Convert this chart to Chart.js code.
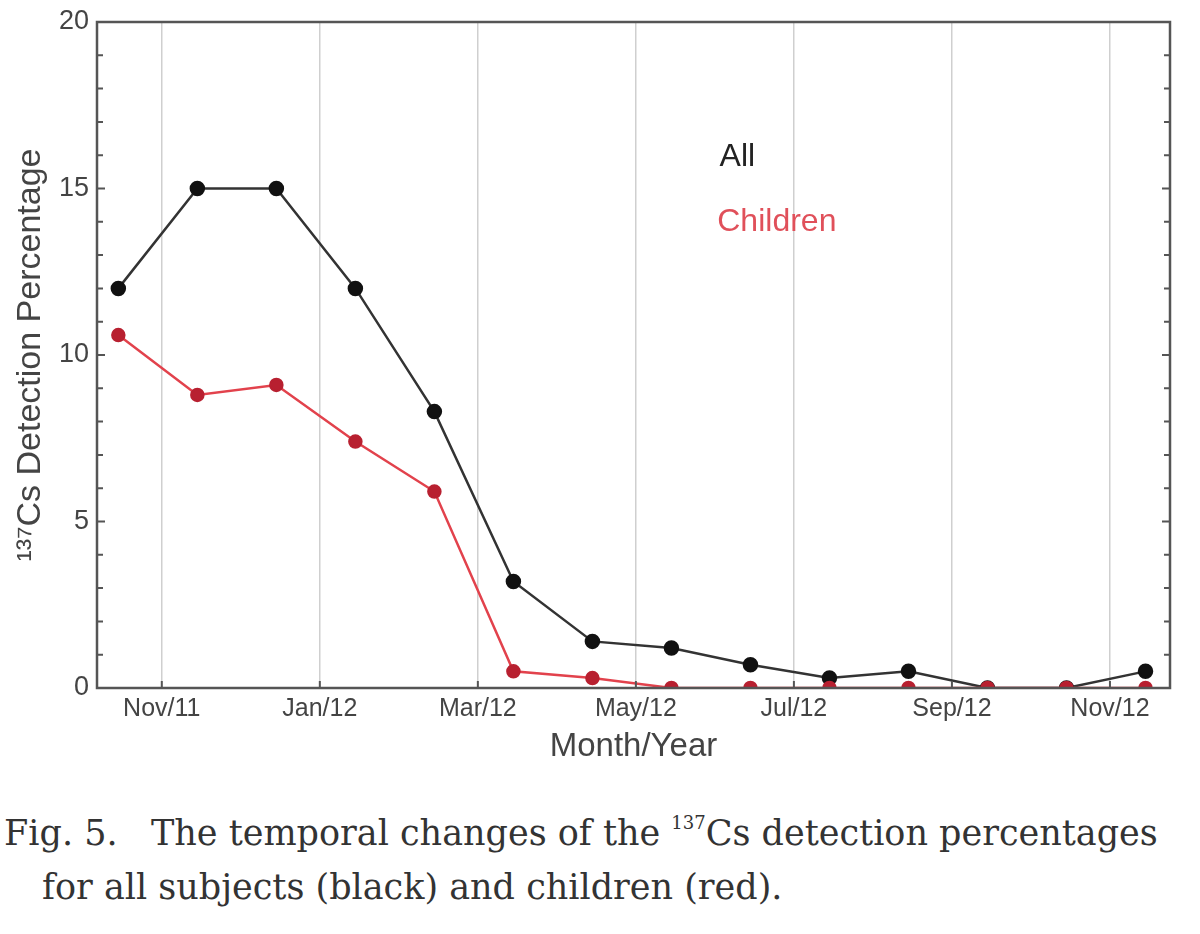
<!DOCTYPE html>
<html>
<head>
<meta charset="utf-8">
<script src="https://cdn.jsdelivr.net/npm/chart.js@4"></script>
<style>
  body { margin: 0; background: #fff; }
  #wrap { position: relative; width: 1200px; height: 934px; }
  #caption {
    position: absolute; left: 4px; top: 806px; width: 1196px;
    font-family: "DejaVu Serif", "Liberation Serif", serif;
    font-size: 35px; line-height: 54px; color: #333; white-space: nowrap;
  }
  #caption .l2 { padding-left: 38px; }
  sup { font-size: 18px; vertical-align: 16px; line-height: 0; }
</style>
</head>
<body>
<div id="wrap">
  <canvas id="lineChart" width="1200" height="780"></canvas>
  <div id="caption">
    <div>Fig. 5.&nbsp;&nbsp; The temporal changes of the <sup>137</sup>Cs detection percentages</div>
    <div class="l2">for all subjects (black) and children (red).</div>
  </div>
</div>
<script>
// months are numbered so that Nov/11 = 11, Jan/12 = 13 ...
months = ['Oct/11', 'Nov/11', 'Dec/11', 'Jan/12', 'Feb/12', 'Mar/12', 'Apr/12',
          'May/12', 'Jun/12', 'Jul/12', 'Aug/12', 'Sep/12', 'Oct/12', 'Nov/12'];
monthPos = [10.45, 11.45, 12.45, 13.45, 14.45, 15.45, 16.45,
            17.45, 18.45, 19.45, 20.45, 21.45, 22.45, 23.45];
allValues = [12.0, 15.0, 15.0, 12.0, 8.3, 3.2, 1.4, 1.2, 0.7, 0.3, 0.5, 0, 0, 0.5];
childValues = [10.6, 8.8, 9.1, 7.4, 5.9, 0.5, 0.3, 0, 0, 0, 0, 0, 0, 0];
tickValues = [11, 13, 15, 17, 19, 21, 23];
tickLabels = ['Nov/11', 'Jan/12', 'Mar/12', 'May/12', 'Jul/12', 'Sep/12', 'Nov/12'];

function toPoints(values) {
    pts = [];
    for (i = 0; i < values.length; i++) {
        pts.push({ x: monthPos[i], y: values[i] });
    }
    return pts;
}

const frameAndText = {
    id: 'frameAndText',
    afterDraw(chart) {
        const ctx = chart.ctx;
        const a = chart.chartArea;
        const xs = chart.scales.x, ys = chart.scales.y;
        ctx.save();
        ctx.strokeStyle = '#555';
        ctx.lineWidth = 2.5;
        ctx.strokeRect(a.left, a.top, a.right - a.left, a.bottom - a.top);
        // inward minor ticks on the y axis, both sides
        ctx.lineWidth = 2;
        for (v = 1; v < 20; v++) {
            const py = ys.getPixelForValue(v);
            const len = (v % 5 === 0) ? 8 : 6;
            ctx.beginPath();
            ctx.moveTo(a.left, py); ctx.lineTo(a.left + len, py);
            ctx.moveTo(a.right, py); ctx.lineTo(a.right - len, py);
            ctx.stroke();
        }
        // small ticks on the bottom axis
        for (const t of tickValues) {
            const px = xs.getPixelForValue(t);
            ctx.beginPath();
            ctx.moveTo(px, a.bottom); ctx.lineTo(px, a.bottom - 7);
            ctx.stroke();
        }
        // in-plot legend text
        ctx.font = '32px "Liberation Sans", Arial, sans-serif';
        ctx.textBaseline = 'middle';
        ctx.fillStyle = '#222';
        ctx.fillText('All', xs.getPixelForValue(18.06), ys.getPixelForValue(15.95));
        ctx.fillStyle = '#e0505a';
        ctx.fillText('Children', xs.getPixelForValue(18.03), ys.getPixelForValue(14.0));
        ctx.restore();
    }
};

new Chart(document.getElementById('lineChart'), {
    type: 'scatter',
    data: {
        datasets: [
            {
                label: 'Children',
                data: toPoints(childValues),
                showLine: true,
                borderColor: '#e2424c',
                borderWidth: 2.5,
                pointBackgroundColor: '#b82030',
                pointBorderColor: '#b82030',
                pointRadius: 6
            },
            {
                label: 'All',
                data: toPoints(allValues),
                showLine: true,
                borderColor: '#333',
                borderWidth: 2.5,
                pointBackgroundColor: '#111',
                pointBorderColor: '#111',
                pointRadius: 6.5
            }
        ]
    },
    options: {
        responsive: false,
        animation: false,
        layout: { padding: { top: 22, right: 30, left: 0, bottom: 13 } },
        plugins: {
            legend: { display: false },
            tooltip: { enabled: false }
        },
        scales: {
            x: {
                type: 'linear',
                min: 10.18,
                max: 23.76,
                afterBuildTicks: (scale) => {
                    scale.ticks = tickValues.map(v => ({ value: v }));
                },
                ticks: {
                    callback: (v) => tickLabels[tickValues.indexOf(v)],
                    color: '#444',
                    font: { family: '"Liberation Sans", Arial, sans-serif', size: 25 },
                    padding: 6,
                    maxRotation: 0,
                    autoSkip: false
                },
                grid: { color: '#cfcfcf', lineWidth: 1.5, drawTicks: false },
                border: { display: false },
                title: {
                    display: true,
                    text: 'Month/Year',
                    color: '#444',
                    font: { family: '"Liberation Sans", Arial, sans-serif', size: 33 },
                    padding: { top: 0, bottom: 0 }
                },
                afterFit: (scale) => { scale.height = 79; }
            },
            y: {
                min: 0,
                max: 20,
                ticks: {
                    stepSize: 5,
                    color: '#444',
                    font: { family: '"Liberation Sans", Arial, sans-serif', size: 27 },
                    padding: 0
                },
                grid: { display: false },
                border: { display: false },
                title: {
                    display: true,
                    text: '¹³⁷Cs Detection Percentage',
                    color: '#444',
                    font: { family: '"Liberation Sans", Arial, sans-serif', size: 34 },
                    padding: { top: 10, bottom: 0 }
                },
                afterFit: (scale) => { scale.width = 97; }
            }
        }
    },
    plugins: [frameAndText]
});
</script>
</body>
</html>
